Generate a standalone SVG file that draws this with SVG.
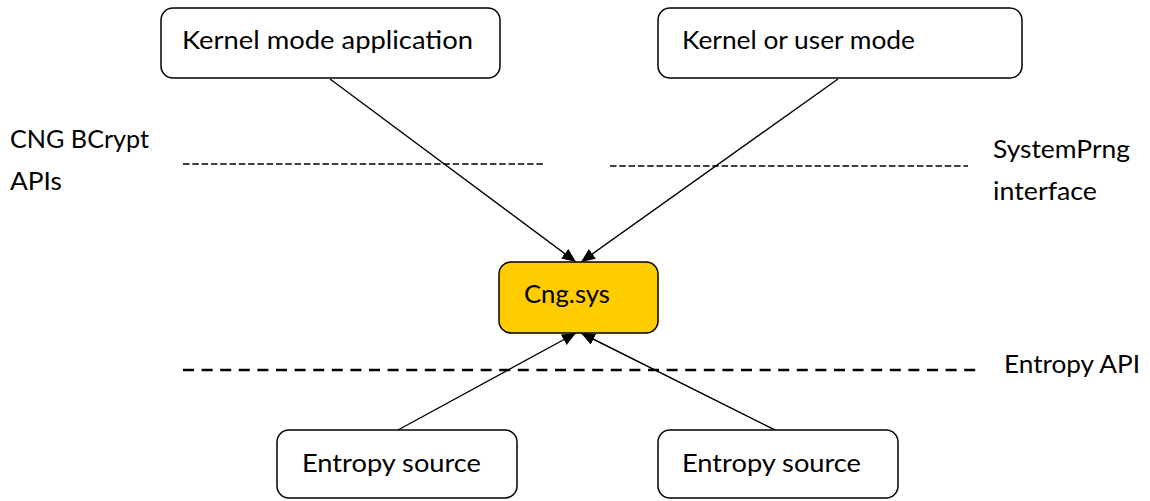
<svg xmlns="http://www.w3.org/2000/svg" width="1150" height="501" viewBox="0 0 1150 501">
  <style>
    .box { fill: #ffffff; stroke: #000000; stroke-width: 1.5; }
    .core { fill: #ffcc00; stroke: #000000; stroke-width: 1.5; }
    .lbl { font-family: Lato, "Liberation Sans", sans-serif; font-size: 24.5px; fill: #000000; }
    .conn { stroke: #000000; stroke-width: 1.4; fill: none; marker-end: url(#arrow); }
    .dash-thin { stroke: #000000; stroke-width: 1.3; stroke-dasharray: 6.5 2.8; fill: none; }
    .dash-thick { stroke: #000000; stroke-width: 2.6; stroke-dasharray: 11 7.6; fill: none; }
  </style>
  <defs>
    <marker id="arrow" markerUnits="userSpaceOnUse" markerWidth="15" markerHeight="13" refX="14" refY="6" orient="auto">
      <path d="M0,0 L14,6 L0,12 z" fill="#000000"/>
    </marker>
  </defs>
  <rect width="1150" height="501" fill="#ffffff"/>

  <g id="layers">
    <line class="dash-thin" x1="183" y1="164" x2="543" y2="164"/>
    <line class="dash-thin" x1="610" y1="166" x2="968" y2="166"/>
    <line class="dash-thick" x1="183" y1="370" x2="978" y2="370"/>
    <text class="lbl" x="10" y="148" textLength="139" lengthAdjust="spacingAndGlyphs">CNG BCrypt</text>
    <text class="lbl" x="10" y="190" textLength="52" lengthAdjust="spacingAndGlyphs">APIs</text>
    <text class="lbl" x="993" y="158" textLength="137" lengthAdjust="spacingAndGlyphs">SystemPrng</text>
    <text class="lbl" x="993" y="200" textLength="104" lengthAdjust="spacingAndGlyphs">interface</text>
    <text class="lbl" x="1004" y="373" textLength="136" lengthAdjust="spacingAndGlyphs">Entropy API</text>
  </g>

  <g id="connectors">
    <line class="conn" x1="330" y1="79" x2="576" y2="262"/>
    <line class="conn" x1="838" y1="79" x2="581" y2="262"/>
    <line class="conn" x1="398" y1="430" x2="576" y2="333"/>
    <line class="conn" x1="775" y1="430" x2="581" y2="333"/>
  </g>

  <g id="kernel-app">
    <rect class="box" x="161" y="8" width="339" height="70" rx="12"/>
    <text class="lbl" x="182" y="49" textLength="291" lengthAdjust="spacingAndGlyphs">Kernel mode application</text>
  </g>
  <g id="kernel-user">
    <rect class="box" x="658" y="8" width="364" height="70" rx="12"/>
    <text class="lbl" x="682" y="49" textLength="233" lengthAdjust="spacingAndGlyphs">Kernel or user mode</text>
  </g>
  <g id="cng">
    <rect class="core" x="499" y="262" width="159" height="71" rx="12"/>
    <text class="lbl" x="524" y="303" textLength="86" lengthAdjust="spacingAndGlyphs">Cng.sys</text>
  </g>
  <g id="entropy-1">
    <rect class="box" x="277" y="430" width="240" height="68" rx="12"/>
    <text class="lbl" x="302" y="472" textLength="179" lengthAdjust="spacingAndGlyphs">Entropy source</text>
  </g>
  <g id="entropy-2">
    <rect class="box" x="658" y="430" width="240" height="68" rx="12"/>
    <text class="lbl" x="682" y="472" textLength="179" lengthAdjust="spacingAndGlyphs">Entropy source</text>
  </g>
</svg>
